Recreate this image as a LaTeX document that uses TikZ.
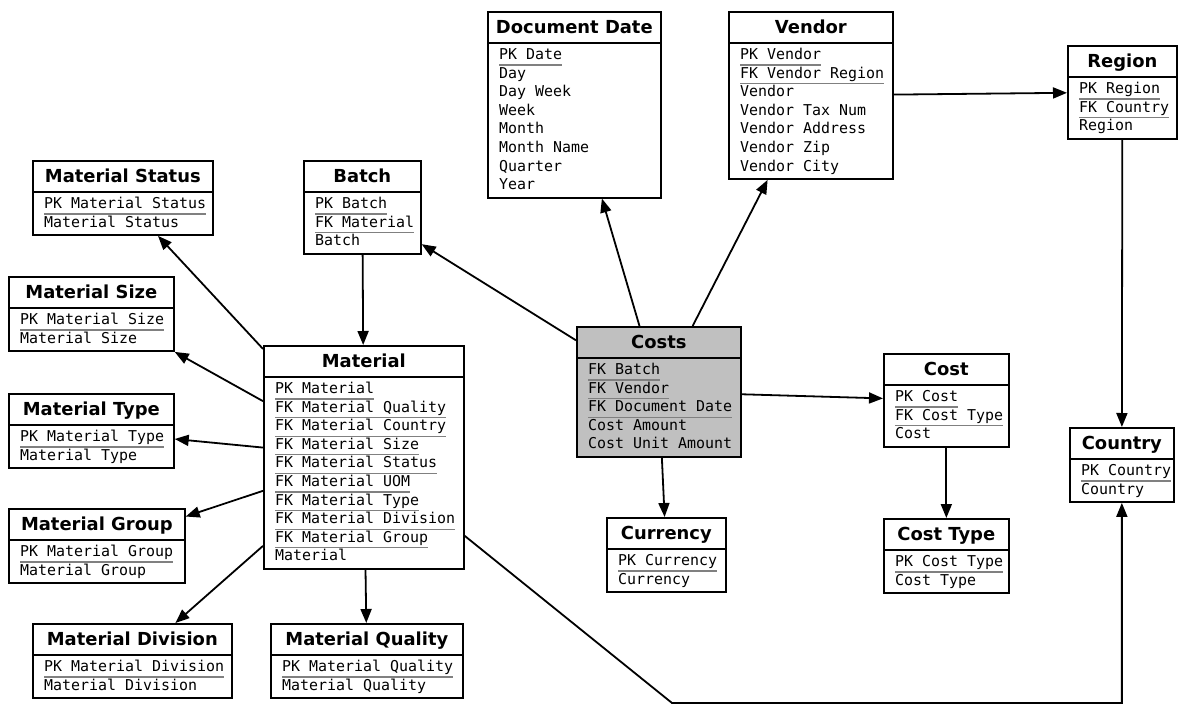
\documentclass[tikz,border=0pt]{standalone}
\usepackage{fontspec}
\setmainfont{DejaVu Sans}
\newfontfamily\monofont{DejaVu Sans Mono}
\usetikzlibrary{arrows.meta,calc}
\definecolor{costgray}{RGB}{192,192,192}

\tikzset{
  ebox/.style={draw, line width=1.7bp, inner sep=0},
  etitle/.style={font=\fontsize{18}{18}\selectfont\bfseries, inner sep=0, anchor=base},
  efield/.style={font=\fontsize{15}{15}\monofont, inner sep=0, anchor=base west},
  keyline/.style={draw=black!50, line width=1.2bp},
  rel/.style={line width=1.8bp, -{Triangle[length=14bp,width=11bp]}},
}

% \entity[fill]{name}{left}{top}{right}{number of rows}{title}{row text/is key,...}
\newcommand\entity[8][white]{%
  \pgfmathsetmacro\ew{#5-#3}%
  \pgfmathsetmacro\eh{37+18.6*#6}%
  \node[ebox, fill=#1, minimum width=\ew bp, minimum height=\eh bp, anchor=north west] (#2) at (#3,#4) {};
  \node[etitle] (#2-title) at ($(#2.north)+(0,22.5)$) {#7};
  \draw[line width=1.7bp] ($(#2.north west)+(0,32)$) -- ($(#2.north east)+(0,32)$);
  \foreach \txt/\k [count=\i from 0] in {#8}{%
    \node[efield] (#2-\i) at ($(#2.north west)+(12,48.5+18.6*\i)$) {\txt};
    \ifnum\k=1 \draw[keyline] ([yshift=-5.5bp]#2-\i.base west) -- ([yshift=-5.5bp]#2-\i.base east);\fi
  }%
}

\begin{document}
\begin{tikzpicture}[x=1bp,y=-1bp]
\fill[white] (0,0) rectangle (1179,705);
\useasboundingbox (0,0) rectangle (1179,705);

% dimension tables
\entity{docdate}{487}{11}{660}{8}{Document Date}{PK Date/1,Day/0,Day Week/0,Week/0,Month/0,Month Name/0,Quarter/0,Year/0}
\entity{vendor}{728}{11}{892}{7}{Vendor}{PK Vendor/1,FK Vendor Region/1,Vendor/0,Vendor Tax Num/0,Vendor Address/0,Vendor Zip/0,Vendor City/0}
\entity{region}{1067}{45}{1176}{3}{Region}{PK Region/1,FK Country/1,Region/0}
\entity{mstatus}{32}{160}{212}{2}{Material Status}{PK Material Status/1,Material Status/0}
\entity{batch}{303}{160}{420}{3}{Batch}{PK Batch/1,FK Material/1,Batch/0}
\entity{msize}{8}{276}{173}{2}{Material Size}{PK Material Size/1,Material Size/0}
\entity{mat}{263}{345}{463}{10}{Material}{PK Material/1,FK Material Quality/1,FK Material Country/1,FK Material Size/1,FK Material Status/1,FK Material UOM/1,FK Material Type/1,FK Material Division/1,FK Material Group/1,Material/0}
\entity{mtype}{8}{393}{173}{2}{Material Type}{PK Material Type/1,Material Type/0}
\entity{mgroup}{8}{508}{184}{2}{Material Group}{PK Material Group/1,Material Group/0}
\entity{mdiv}{32}{623}{231}{2}{Material Division}{PK Material Division/1,Material Division/0}
\entity{mqual}{270}{623}{462}{2}{Material Quality}{PK Material Quality/1,Material Quality/0}
\entity{currency}{606}{517}{725}{2}{Currency}{PK Currency/1,Currency/0}
\entity{cost}{883}{353}{1008}{3}{Cost}{PK Cost/1,FK Cost Type/1,Cost/0}
\entity{costtype}{883}{518}{1008}{2}{Cost Type}{PK Cost Type/1,Cost Type/0}
\entity{country}{1069}{427}{1173}{2}{Country}{PK Country/1,Country/0}

% fact table
\entity[costgray]{costs}{576}{326}{740}{5}{Costs}{FK Batch/1,FK Vendor/1,FK Document Date/1,Cost Amount/0,Cost Unit Amount/0}

% relations
\draw[rel] (costs) -- (batch);
\draw[rel] (costs) -- (docdate);
\draw[rel] (costs) -- (vendor);
\draw[rel] (costs) -- (cost);
\draw[rel] (costs) -- (currency);
\draw[rel] (vendor) -- (region);
\draw[rel] (region) -- (country);
\draw[rel] (cost) -- (costtype);
\draw[rel] (batch) -- (mat);
\draw[rel] (mat) -- (mstatus);
\draw[rel] (mat) -- (msize.south east);
\draw[rel] (mat) -- (mtype);
\draw[rel] (mat) -- (mgroup);
\draw[rel] (mat) -- (mdiv);
\draw[rel] (mat) -- (mqual);
\coordinate (kink) at (672,703);
\draw[rel] ([yshift=-78.5bp]mat.east) -- (kink) -- (country.south |- kink) -- (country.south);
\end{tikzpicture}
\end{document}
